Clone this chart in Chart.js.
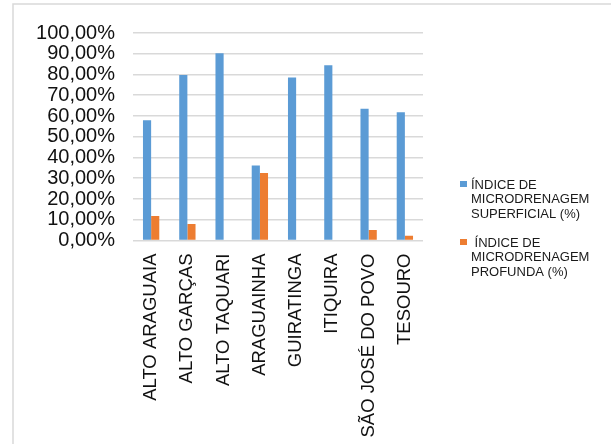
<!DOCTYPE html>
<html>
<head>
<meta charset="utf-8">
<script src="https://cdn.jsdelivr.net/npm/chart.js@4.4.1/dist/chart.umd.min.js"></script>
<style>
  html, body { margin: 0; padding: 0; background: #fff; }
  #wrap { position: relative; width: 611px; height: 444px; }
</style>
</head>
<body>
<div id="wrap"><canvas id="c" width="611" height="444"></canvas></div>
<script>
// Sub-basins (categories)
const categories = [
  'ALTO ARAGUAIA', 'ALTO GARÇAS', 'ALTO TAQUARI', 'ARAGUAINHA',
  'GUIRATINGA', 'ITIQUIRA', 'SÃO JOSÉ DO POVO', 'TESOURO'
];
// Surface micro-drainage index (%)
const superficial = [57.9, 79.8, 90.2, 36.2, 78.6, 84.4, 63.5, 61.8];
// Deep micro-drainage index (%)
const profunda = [11.8, 8.0, 0, 32.5, 0, 0, 5.1, 2.3];
// Legend text, one entry per line
const labelSuperficial = ['ÍNDICE DE', 'MICRODRENAGEM', 'SUPERFICIAL (%)'];
const labelProfunda = [' ÍNDICE DE', 'MICRODRENAGEM', 'PROFUNDA (%)'];
// Value axis ticks
const yMin = 0, yMax = 100, yStep = 10;

const BLUE = '#5b9bd5';
const ORANGE = '#ed7d31';
const GRID = '#d9d9d9';

// Thin frame around the chart
const framePlugin = {
  id: 'frame',
  beforeDraw(chart) {
    const ctx = chart.ctx;
    ctx.save();
    ctx.fillStyle = '#fff';
    ctx.fillRect(0, 0, chart.width, chart.height);
    ctx.strokeStyle = GRID;
    ctx.lineWidth = 1.5;
    ctx.beginPath();
    ctx.moveTo(13, chart.height);
    ctx.lineTo(13, 4);
    ctx.lineTo(chart.width, 4);
    ctx.stroke();
    ctx.restore();
  }
};

// Right-hand legend with multi-line entries
const legendPlugin = {
  id: 'sideLegend',
  afterDraw(chart) {
    const ctx = chart.ctx;
    ctx.save();
    ctx.font = '13px "Liberation Sans", Arial, sans-serif';
    ctx.textBaseline = 'middle';
    ctx.textAlign = 'left';
    const startY = [185, 243];
    chart.data.datasets.forEach((ds, i) => {
      const y0 = startY[i];
      ctx.fillStyle = ds.backgroundColor;
      ctx.fillRect(460, y0 - 4, 7, 6);
      ctx.fillStyle = '#1a1a1a';
      ds.label.forEach((line, k) => {
        ctx.fillText(line, 471, y0 + k * 14.5);
      });
    });
    ctx.restore();
  }
};

new Chart(document.getElementById('c'), {
  type: 'bar',
  data: {
    labels: categories,
    datasets: [
      { label: labelSuperficial, data: superficial, backgroundColor: BLUE,
        categoryPercentage: 0.45, barPercentage: 1.0 },
      { label: labelProfunda, data: profunda, backgroundColor: ORANGE,
        categoryPercentage: 0.45, barPercentage: 1.0 }
    ]
  },
  options: {
    responsive: false,
    animation: false,
    devicePixelRatio: 1,
    layout: { padding: { top: 33, right: 188, bottom: 0, left: 0 } },
    plugins: {
      legend: { display: false },
      tooltip: { enabled: false }
    },
    scales: {
      x: {
        grid: { display: false, drawTicks: false },
        border: { display: false },
        ticks: {
          autoSkip: false,
          minRotation: 90,
          maxRotation: 90,
          padding: 13,
          color: '#111',
          font: { family: '"Liberation Sans", Arial, sans-serif', size: 18.5 }
        },
        afterFit(scale) { scale.height = 203.5; }
      },
      y: {
        min: yMin,
        max: yMax,
        grid: { color: GRID, lineWidth: 1.6, drawTicks: false },
        border: { display: false },
        ticks: {
          stepSize: yStep,
          autoSkip: false,
          padding: 18,
          color: '#111',
          font: { family: '"Liberation Sans", Arial, sans-serif', size: 20 },
          callback: v => v.toFixed(2).replace('.', ',') + '%'
        },
        afterFit(scale) { scale.width = 133; }
      }
    }
  },
  plugins: [framePlugin, legendPlugin]
});
</script>
</body>
</html>
